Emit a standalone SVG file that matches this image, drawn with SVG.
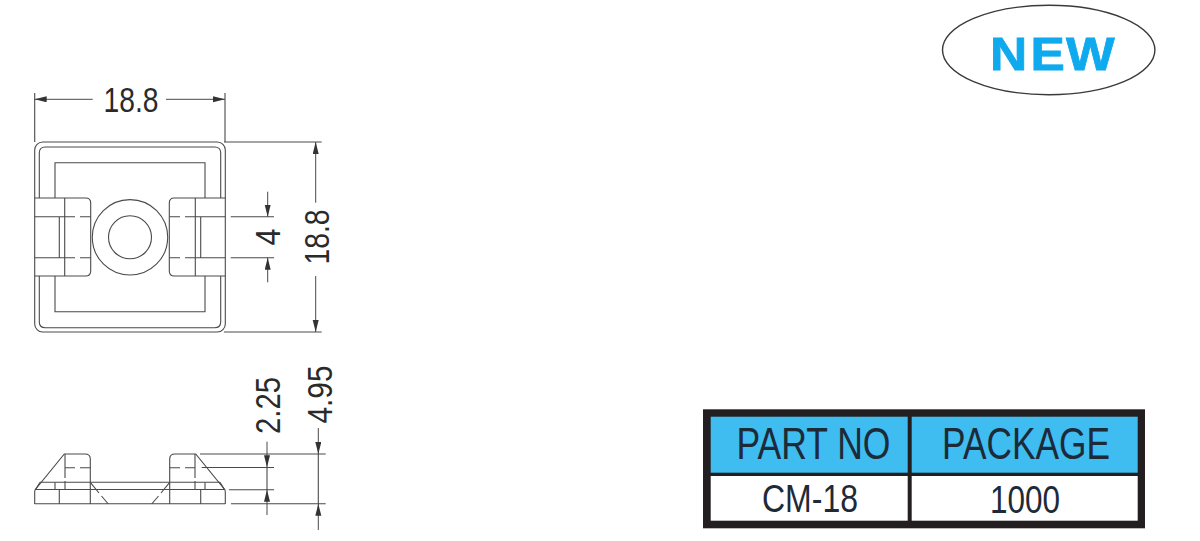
<svg xmlns="http://www.w3.org/2000/svg" width="1200" height="541" viewBox="0 0 1200 541">
<style>
.l{fill:none;stroke:#4a4a4a;stroke-width:1.1}
.d{fill:none;stroke:#4a4a4a;stroke-width:1;marker-end:url(#a)}
.t{font-family:"Liberation Sans",Arial,sans-serif;font-size:35px;fill:#2a2a2a;text-anchor:middle}
.h{font-family:"Liberation Sans",Arial,sans-serif;fill:#1d2a38;text-anchor:middle}
</style>
<defs>
<marker id="a" markerUnits="userSpaceOnUse" markerWidth="13" markerHeight="7" refX="12" refY="3" orient="auto"><path d="M0 0L12 3L0 6Z" fill="#333"/></marker>
<g id="topTab">
<path class="l" d="M34.7 198H85.7Q90.7 198 90.7 203V271Q90.7 276 85.7 276H34.7"/>
<path class="l" d="M64.7 198V276M59.3 216.7V257.7M34.7 216.7H75M80 216.7H90.7M34.7 257.7H75M80 257.7H90.7"/>
</g>
<g id="sideHalf">
<path class="l" d="M34.7 504V492L35 490L64.3 454H85Q90.3 454 90.3 459V504"/>
<path class="l" d="M40 482.3L35.5 489.5M55 482.3V489.3M59.3 489.3V504M65 454V478M65 481V489.3M65 467.7H75M80 467.7H90.3M90.3 482.3L99 493M101.5 496L108.3 504"/>
</g>
</defs>
<g id="top-view">
<rect class="l" x="34.7" y="142" width="190.6" height="190" rx="8"/>
<path class="l" d="M39.3 198V153Q39.3 147 45.3 147H214.7Q220.7 147 220.7 153V198M39.3 276V321.7Q39.3 327.7 45.3 327.7H214.7Q220.7 327.7 220.7 321.7V276"/>
<path class="l" d="M55 198V162.7H205V198M55 276V311.7H205V276"/>
<use href="#topTab"/>
<use href="#topTab" transform="matrix(-1 0 0 1 260 0)"/>
<circle class="l" cx="130" cy="237.3" r="37.7"/>
<circle class="l" cx="130" cy="237.3" r="21.5"/>
</g>
<g id="side-view">
<use href="#sideHalf"/>
<use href="#sideHalf" transform="matrix(-1 0 0 1 260 0)"/>
<path class="l" d="M40 482.3H220M35 489.5H225M34.7 503.7H225.3"/>
</g>
<g id="dimensions">
<path class="l" d="M34.7 93V142M225 93V142M224 142H321.7M224 332H321.7"/>
<path class="d" d="M92.7 99.3H34.7"/>
<path class="d" d="M166 99.3H225"/>
<path class="d" d="M315.7 202.7V142"/>
<path class="d" d="M315.7 276V332"/>
<path class="l" d="M230.7 216.7H274M230.7 257.7H274"/>
<path class="d" d="M267.7 191.7V216.7"/>
<path class="d" d="M267.7 282.3V257.7"/>
<path class="l" d="M200 454H325.7M201.7 467.5H274M229 489.7H274M231 503.7H325.7M267 467.3V489.7M318.3 454V503.7"/>
<path class="d" d="M267 441.7V467.3"/>
<path class="d" d="M267 515V489.7"/>
<path class="d" d="M318.3 428V454"/>
<path class="d" d="M318.3 530V503.7"/>
<text class="t" x="131" y="111.7" textLength="55" lengthAdjust="spacingAndGlyphs">18.8</text>
<text class="t" transform="translate(329 237) rotate(-90)" textLength="55" lengthAdjust="spacingAndGlyphs">18.8</text>
<text class="t" transform="translate(280 237) rotate(-90)" textLength="17" lengthAdjust="spacingAndGlyphs">4</text>
<text class="t" transform="translate(280 405.5) rotate(-90)" textLength="57" lengthAdjust="spacingAndGlyphs">2.25</text>
<text class="t" transform="translate(332 394.5) rotate(-90)" textLength="58" lengthAdjust="spacingAndGlyphs">4.95</text>
</g>
<g id="new-badge">
<ellipse cx="1048.7" cy="50" rx="106.2" ry="44.7" fill="#fff" stroke="#3a3a3a" stroke-width="1.4"/>
<text transform="scale(1.12 1)" x="884 920 951.8" y="70.3" font-family="'Liberation Sans',Arial,sans-serif" font-size="46" font-weight="700" fill="#0fa9ee" stroke="#0fa9ee" stroke-width="0.8">NEW</text>
</g>
<g id="table">
<rect x="703" y="409.3" width="442" height="119" fill="#231f20"/>
<rect x="710.7" y="416.7" width="197" height="56" fill="#3fbcf0"/>
<rect x="911.7" y="416.7" width="226" height="56" fill="#3fbcf0"/>
<rect x="710.7" y="476" width="197" height="44.7" fill="#fff"/>
<rect x="911.7" y="476" width="226" height="44.7" fill="#fff"/>
<text class="h" x="813.5" y="459.3" font-size="44" textLength="154" lengthAdjust="spacingAndGlyphs">PART NO</text>
<text class="h" x="1026" y="459.3" font-size="44" textLength="168" lengthAdjust="spacingAndGlyphs">PACKAGE</text>
<text class="h" x="810" y="511.7" font-size="38" fill="#222" textLength="96" lengthAdjust="spacingAndGlyphs">CM-18</text>
<text class="h" x="1025" y="512.7" font-size="38" fill="#222" textLength="70" lengthAdjust="spacingAndGlyphs">1000</text>
</g>
</svg>
